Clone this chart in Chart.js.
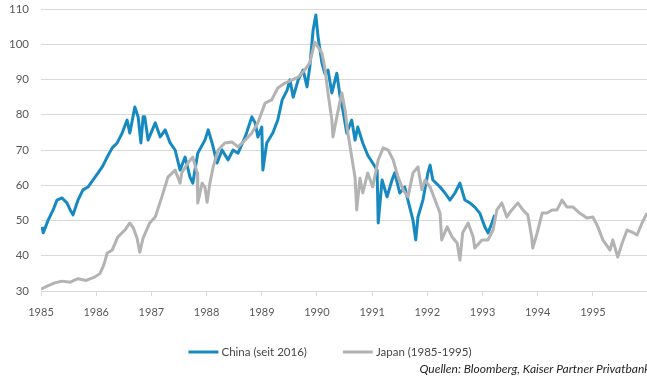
<!DOCTYPE html>
<html>
<head>
<meta charset="utf-8">
<script src="https://cdn.jsdelivr.net/npm/chart.js@4.4.1/dist/chart.umd.min.js"></script>
<style>
  html, body { margin: 0; padding: 0; background: #ffffff; overflow: hidden; }
  #wrap { position: relative; width: 647px; height: 378px; }
</style>
</head>
<body>
<div id="wrap"><canvas id="c" width="647" height="378"></canvas></div>
<script>
// Year ticks on the time axis
const yearTicks = [1985, 1986, 1987, 1988, 1989, 1990, 1991, 1992, 1993, 1994, 1995];
// Value ticks (index level)
const valueTicks = [30, 40, 50, 60, 70, 80, 90, 100, 110];

// Series labels and source line
const seriesLabels = ['China (seit 2016)', 'Japan (1985-1995)'];
const sourceNote = 'Quellen: Bloomberg, Kaiser Partner Privatbank';

// China, aligned on the Japan time scale (decimal years)
const chinaDates = [
  1985.02, 1985.04, 1985.13, 1985.22, 1985.29, 1985.38, 1985.47, 1985.53, 1985.58, 1985.67,
  1985.76, 1985.85, 1985.98, 1986.11, 1986.20, 1986.29, 1986.38, 1986.47, 1986.56, 1986.61,
  1986.70, 1986.76, 1986.81, 1986.85, 1986.88, 1986.94, 1987.07, 1987.16, 1987.25, 1987.34,
  1987.43, 1987.52, 1987.61, 1987.70, 1987.75, 1987.84, 1987.97, 1988.03, 1988.10, 1988.19,
  1988.28, 1988.39, 1988.48, 1988.57, 1988.70, 1988.82, 1988.88, 1988.93, 1989.00, 1989.02,
  1989.09, 1989.20, 1989.29, 1989.37, 1989.46, 1989.51, 1989.57, 1989.66, 1989.75, 1989.82,
  1989.87, 1989.93, 1989.98, 1990.02, 1990.09, 1990.14, 1990.20, 1990.27, 1990.36, 1990.42,
  1990.47, 1990.54, 1990.63, 1990.69, 1990.74, 1990.83, 1990.92, 1991.01, 1991.09, 1991.11,
  1991.18, 1991.27, 1991.36, 1991.41, 1991.50, 1991.59, 1991.68, 1991.74, 1991.79, 1991.83,
  1991.92, 1992.01, 1992.05, 1992.10, 1992.23, 1992.32, 1992.41, 1992.50, 1992.59, 1992.68,
  1992.77, 1992.86, 1992.95, 1993.04, 1993.10, 1993.17, 1993.22
];
const chinaValues = [
  48.2, 46.5, 50.1, 53.0, 55.8, 56.4, 55.0, 53.0, 51.6, 55.8,
  58.7, 59.5, 62.3, 65.2, 68.0, 70.6, 72.0, 74.8, 78.5, 74.8,
  82.2, 79.4, 72.0, 79.4, 79.4, 72.8, 77.7, 73.7, 75.7, 72.0,
  70.0, 64.3, 68.0, 62.3, 60.6, 69.1, 72.8, 75.7, 72.0, 66.3,
  70.0, 67.2, 70.0, 69.1, 73.7, 79.4, 77.7, 73.7, 76.5, 64.3,
  72.0, 74.8, 78.5, 84.2, 87.0, 89.9, 85.0, 89.9, 92.7, 87.9,
  93.5, 104.0, 108.3, 102.1, 94.7, 91.8, 92.7, 86.2, 91.8, 85.0,
  81.3, 74.8, 78.5, 72.8, 76.5, 72.0, 68.5, 66.3, 64.3, 49.3,
  61.5, 56.7, 61.5, 63.5, 57.8, 59.5, 53.8, 50.1, 44.5, 51.0,
  55.8, 63.5, 65.7, 61.5, 59.5, 57.8, 55.8, 57.8, 60.6, 55.8,
  55.0, 53.8, 52.1, 48.2, 46.5, 49.3, 51.6
];

// Japan 1985-1995 (decimal years)
const japanDates = [
  1985.00, 1985.13, 1985.25, 1985.38, 1985.53, 1985.67, 1985.82, 1985.98, 1986.07, 1986.14,
  1986.20, 1986.29, 1986.39, 1986.52, 1986.61, 1986.67, 1986.74, 1986.79, 1986.85, 1986.97,
  1987.07, 1987.19, 1987.30, 1987.43, 1987.52, 1987.55, 1987.66, 1987.75, 1987.83, 1987.84,
  1987.92, 1987.97, 1988.01, 1988.06, 1988.12, 1988.21, 1988.33, 1988.46, 1988.57, 1988.70,
  1988.82, 1988.93, 1989.06, 1989.18, 1989.29, 1989.42, 1989.55, 1989.66, 1989.78, 1989.87,
  1989.96, 1990.02, 1990.09, 1990.14, 1990.20, 1990.27, 1990.29, 1990.36, 1990.45, 1990.51,
  1990.56, 1990.63, 1990.69, 1990.72, 1990.78, 1990.83, 1990.92, 1991.01, 1991.11, 1991.20,
  1991.29, 1991.38, 1991.47, 1991.56, 1991.65, 1991.74, 1991.83, 1991.90, 1991.96, 1992.05,
  1992.14, 1992.23, 1992.26, 1992.36, 1992.45, 1992.54, 1992.59, 1992.64, 1992.74, 1992.83,
  1992.86, 1992.99, 1993.10, 1993.19, 1993.26, 1993.35, 1993.44, 1993.53, 1993.64, 1993.73,
  1993.82, 1993.89, 1993.91, 1993.99, 1994.08, 1994.17, 1994.26, 1994.35, 1994.44, 1994.53,
  1994.64, 1994.76, 1994.89, 1995.00, 1995.09, 1995.18, 1995.31, 1995.36, 1995.45, 1995.53,
  1995.62, 1995.71, 1995.80, 1995.89, 1995.98
];
const japanValues = [
  30.5, 31.5, 32.3, 32.8, 32.5, 33.5, 33.0, 34.0, 35.0, 37.5,
  40.8, 41.6, 45.3, 47.3, 49.3, 48.0, 45.0, 41.0, 45.0, 49.3,
  51.0, 56.7, 62.3, 64.3, 60.6, 63.5, 66.3, 68.0, 63.5, 55.0,
  60.6, 59.5, 55.2, 60.6, 65.2, 70.0, 72.0, 72.3, 70.9, 72.8,
  74.8, 77.7, 83.3, 84.2, 87.6, 89.0, 89.9, 90.7, 92.7, 94.7,
  100.6, 99.2, 97.5, 93.5, 86.2, 78.5, 73.7, 79.4, 86.2, 81.3,
  74.8, 68.0, 62.3, 53.0, 62.0, 57.8, 63.5, 59.5, 67.2, 70.6,
  70.0, 67.2, 62.3, 58.7, 56.7, 63.5, 65.2, 58.7, 61.5, 59.5,
  55.8, 52.1, 44.5, 48.2, 45.3, 43.6, 38.8, 46.5, 49.3, 45.3,
  42.2, 44.5, 44.5, 47.3, 53.0, 55.0, 51.0, 53.0, 55.0, 53.0,
  51.6, 45.3, 42.2, 46.5, 52.1, 52.1, 53.0, 53.0, 55.8, 53.8,
  53.8, 52.1, 50.7, 51.0, 48.2, 44.5, 41.6, 44.5, 39.6, 43.6,
  47.3, 46.7, 45.9, 49.3, 52.1
];

const BLUE = '#168ac0';
const GREY = '#b3b3b3';
const GRID = '#d9d9d9';
const TICK_TEXT = '#595959';
const FONT = 'Lato, "Open Sans", sans-serif';

const toPoints = (dates, values) => dates.map((d, i) => ({ x: d, y: values[i] }));

// Legend row and source note drawn below the axis
const keyAndSource = {
  id: 'keyAndSource',
  afterDraw(chart) {
    const ctx = chart.ctx;
    ctx.save();
    ctx.font = '11.5px ' + FONT;
    ctx.textBaseline = 'middle';
    ctx.textAlign = 'left';
    const lineW = 30, gap = 3, itemGap = 36, y = 352;
    const items = chart.data.datasets.map(ds => ({
      label: ds.label, color: ds.borderColor, w: ctx.measureText(ds.label).width
    }));
    const total = items.reduce((s, it) => s + lineW + gap + it.w, 0) + itemGap * (items.length - 1);
    let x = 330 - total / 2;
    items.forEach(it => {
      ctx.strokeStyle = it.color;
      ctx.lineWidth = 3;
      ctx.beginPath();
      ctx.moveTo(x, y);
      ctx.lineTo(x + lineW, y);
      ctx.stroke();
      ctx.fillStyle = '#454545';
      ctx.fillText(it.label, x + lineW + gap, y);
      x += lineW + gap + it.w + itemGap;
    });
    ctx.font = 'italic 12px ' + FONT;
    ctx.textAlign = 'right';
    ctx.fillStyle = '#1e1e1e';
    ctx.fillText(sourceNote, 650, 369);
    ctx.restore();
  }
};

new Chart(document.getElementById('c'), {
  type: 'line',
  data: {
    datasets: [
      {
        label: seriesLabels[0],
        data: toPoints(chinaDates, chinaValues),
        borderColor: BLUE,
        backgroundColor: BLUE,
        borderWidth: 3,
        pointRadius: 0,
        tension: 0,
        borderJoinStyle: 'round',
        order: 1
      },
      {
        label: seriesLabels[1],
        data: toPoints(japanDates, japanValues),
        borderColor: GREY,
        backgroundColor: GREY,
        borderWidth: 3,
        pointRadius: 0,
        tension: 0,
        borderJoinStyle: 'round',
        order: 0
      }
    ]
  },
  options: {
    responsive: false,
    animation: false,
    devicePixelRatio: 1,
    layout: { padding: { top: 9, left: 0, right: 0, bottom: 57 } },
    plugins: {
      legend: { display: false },
      tooltip: { enabled: false },
      title: { display: false }
    },
    scales: {
      x: {
        type: 'linear',
        min: 1985,
        max: 1995.98,
        afterBuildTicks: scale => { scale.ticks = yearTicks.map(v => ({ value: v })); },
        afterFit: scale => { scale.height = 30; scale.paddingLeft = 0; scale.paddingRight = 0; },
        ticks: {
          autoSkip: false,
          maxRotation: 0,
          padding: 10,
          color: TICK_TEXT,
          font: { family: FONT, size: 11 },
          callback: v => String(v)
        },
        grid: { drawOnChartArea: false, drawTicks: true, tickLength: 5, color: GRID, lineWidth: 1 },
        border: { display: true, color: GRID, width: 1 }
      },
      y: {
        min: 30,
        max: 110,
        afterBuildTicks: scale => { scale.ticks = valueTicks.map(v => ({ value: v })); },
        afterFit: scale => { scale.width = 41; scale.paddingTop = 0; scale.paddingBottom = 0; },
        ticks: {
          padding: 12,
          color: TICK_TEXT,
          font: { family: FONT, size: 11.5 }
        },
        grid: { drawTicks: false, color: GRID, lineWidth: 1 },
        border: { display: false }
      }
    }
  },
  plugins: [keyAndSource]
});
</script>
</body>
</html>
